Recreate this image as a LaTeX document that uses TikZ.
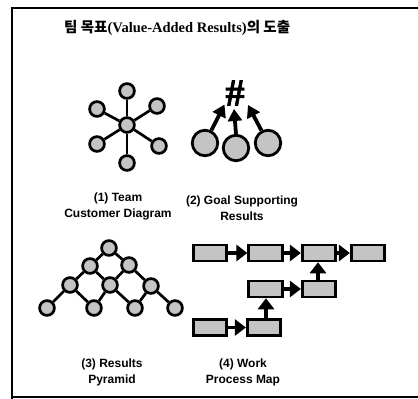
\documentclass[tikz,border=0pt]{standalone}
\usepackage{fontspec}
\setmainfont{Liberation Serif}
\newfontfamily\lsans{Liberation Sans}
\newfontfamily\krfont{Noto Sans CJK KR}
\newfontfamily\hashfont[UprightFont=* Bold, FakeBold=1.8]{Liberation Serif}
\usetikzlibrary{arrows.meta}
\definecolor{dither}{RGB}{196,196,196}
\tikzset{
  ball/.style={circle, draw, line width=2.7pt, fill=dither, minimum size=14.8pt, inner sep=0pt},
  bigball/.style={circle, draw, line width=2.8pt, fill=dither, minimum size=25.5pt, inner sep=0pt},
  link/.style={line width=2.7pt},
  box/.style={rectangle, draw, line width=2.7pt, fill=dither, minimum width=33.5pt, minimum height=15.8pt, inner sep=0pt},
  flow/.style={line width=3.6pt, -{Triangle[length=11pt,width=16pt]}},
  goal/.style={line width=3.8pt, -{Triangle[length=12pt,width=14pt]}},
  caption/.style={align=center, font=\lsans\bfseries\fontsize{12}{16}\selectfont, inner sep=0pt},
}
\begin{document}
\begin{tikzpicture}[x=1pt,y=-1pt]
\useasboundingbox (0,0) rectangle (418,399);
% frame, open on the right
\draw[line width=1.8pt] (418,8) -- (12,8) -- (12,399);
\draw[line width=1.3pt] (12,397) -- (418,397);

% heading
\node[anchor=west, inner sep=0pt] (title) at (64,28)
  {\krfont\bfseries\fontsize{14.5}{16}\selectfont 팀 목표{\rmfamily\bfseries\fontsize{14.5}{16}\selectfont (Value-Added Results)}의 도출};

% (1) team customer diagram
\node[ball] (hub) at (127,125) {};
\node[ball] (s1) at (127,91) {};
\node[ball] (s2) at (97,109) {};
\node[ball] (s3) at (157,106) {};
\node[ball] (s4) at (97,144) {};
\node[ball] (s5) at (159,146) {};
\node[ball] (s6) at (127,163) {};
\foreach \s in {s1,s2,s3,s4,s5,s6} \draw[link] (hub) -- (\s);
\node[caption] (cap1) at (118,206) {(1) Team\\Customer Diagram};

% (2) goal supporting results
\node[inner sep=0pt] (hash) at (235,93) {\hashfont\fontsize{38}{38}\selectfont\#};
\node[bigball] (g1) at (205,143) {};
\node[bigball] (g2) at (236,148) {};
\node[bigball] (g3) at (268,143) {};
\coordinate (t1) at (224.5,104.5);
\coordinate (t2) at (234,109);
\coordinate (t3) at (248,105);
\draw[goal] (g1) -- (t1);
\draw[goal] (g2.north) -- (t2);
\draw[goal] (g3) -- (t3);
\node[caption] (cap2) at (242,208) {(2) Goal Supporting\\Results};

% (3) results pyramid
\node[ball] (p1) at (109,248) {};
\node[ball] (p2) at (90,266) {};
\node[ball] (p3) at (129,265) {};
\node[ball] (p4) at (70,285) {};
\node[ball] (p5) at (110,285) {};
\node[ball] (p6) at (151,286) {};
\node[ball] (p7) at (47,308) {};
\node[ball] (p8) at (94,308) {};
\node[ball] (p9) at (135,308) {};
\node[ball] (p10) at (175,308) {};
\foreach \a/\b in {p1/p2,p1/p3,p2/p4,p2/p5,p3/p5,p3/p6,p4/p7,p4/p8,p5/p8,p5/p9,p6/p9,p6/p10}
  \draw[link] (\a) -- (\b);
\node[caption] (cap3) at (112,372) {(3) Results\\Pyramid};

% (4) work process map
\node[box] (w1) at (210,253) {};
\node[box] (w2) at (265.5,253) {};
\node[box] (w3) at (319,253) {};
\node[box] (w4) at (368,253) {};
\node[box] (w5) at (265.5,289) {};
\node[box] (w6) at (319,289) {};
\node[box] (w7) at (210,327.5) {};
\node[box] (w8) at (264,327.5) {};
\draw[flow] (w1) -- (w2);
\draw[flow] (w2) -- (w3);
\draw[flow] (w3) -- (w4);
\draw[flow] (w5) -- (w6);
\draw[flow] (w7) -- (w8);
\draw[flow] (w6.north -| 318,0) -- (w3.south -| 318,0);
\draw[flow] (w8.north -| 266,0) -- (w5.south -| 266,0);
\node[caption] (cap4) at (243,372) {(4) Work\\Process Map};
\end{tikzpicture}
\end{document}
